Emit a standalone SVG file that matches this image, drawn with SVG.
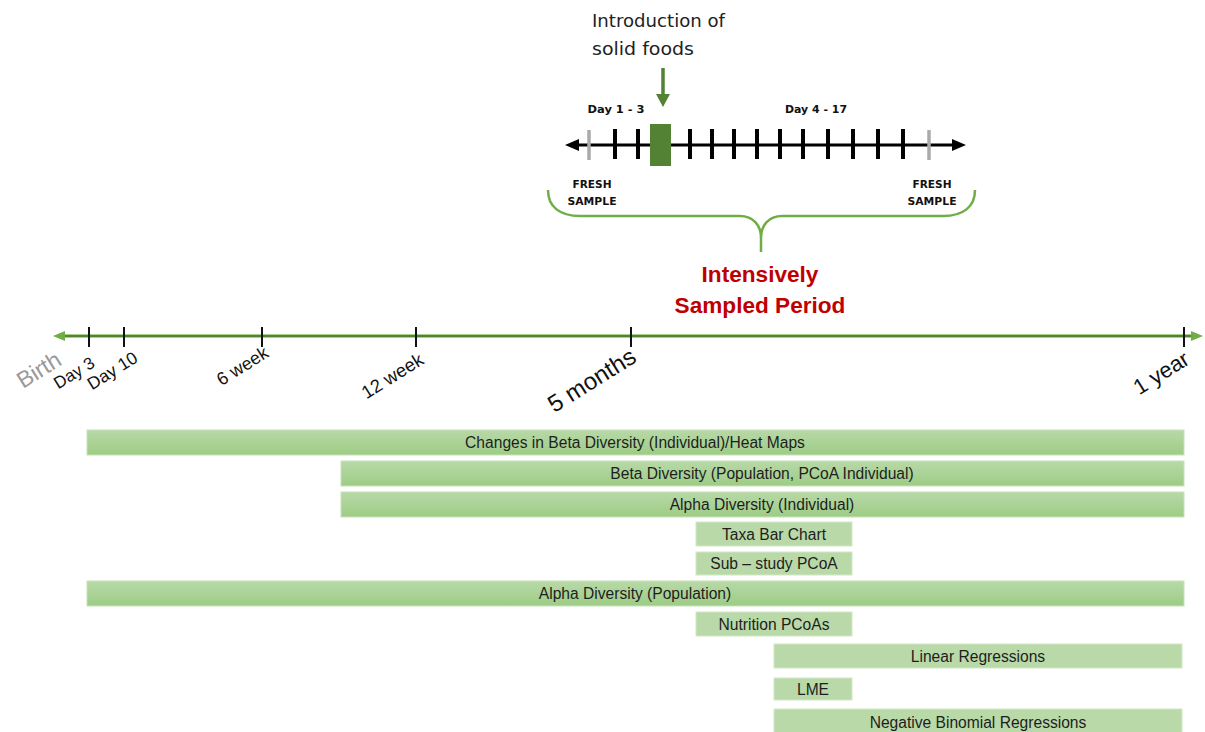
<svg xmlns="http://www.w3.org/2000/svg" width="1205" height="732" viewBox="0 0 1205 732">
<defs>
<linearGradient id="gBar" x1="0" y1="0" x2="0" y2="1">
<stop offset="0" stop-color="#b8d9a7"/>
<stop offset="1" stop-color="#9dcc85"/>
</linearGradient>
<style>
.bar{fill:url(#gBar);stroke:#c8e2b8;stroke-width:1}
.box{fill:#b9d9a8;stroke:#d3e8c6;stroke-width:1}
.bt{font-family:"Liberation Sans",Arial,sans-serif;font-size:15.6px;fill:#1e1e1e;text-anchor:middle}
.lab{font-family:"Liberation Sans",Arial,sans-serif;fill:#111;text-anchor:end}
.tick{stroke:#111;stroke-width:2}
.stk{stroke:#000;stroke-width:4}
.gtk{stroke:#aaaaaa;stroke-width:3.5}
.sm{font-family:"DejaVu Sans","Liberation Sans",sans-serif;font-weight:bold;font-size:11px;fill:#111;text-anchor:middle}
.red{font-family:"Liberation Sans",Arial,sans-serif;font-weight:bold;font-size:22.6px;fill:#c00000;text-anchor:middle}
.intro{font-family:"DejaVu Sans","Liberation Sans",sans-serif;font-size:18px;fill:#222}
</style>
</defs>
<rect width="1205" height="732" fill="#ffffff"/>

<g id="intro-label">
<text class="intro" x="592" y="27" textLength="133" lengthAdjust="spacingAndGlyphs">Introduction of</text>
<text class="intro" x="592" y="55" textLength="102" lengthAdjust="spacingAndGlyphs">solid foods</text>
<line x1="663" y1="68" x2="663" y2="96" stroke="#548235" stroke-width="3.5"/>
<polygon points="656,94 670,94 663,107" fill="#548235"/>
</g>

<g id="sampling-timeline">
<text class="sm" x="616" y="113" textLength="57" lengthAdjust="spacingAndGlyphs">Day 1 - 3</text>
<text class="sm" x="816" y="113" textLength="62" lengthAdjust="spacingAndGlyphs">Day 4 - 17</text>
<line x1="575" y1="145" x2="957" y2="145" stroke="#000" stroke-width="3"/>
<polygon points="565,145 579,139 579,151" fill="#000"/>
<polygon points="966,145 952,139 952,151" fill="#000"/>
<line class="gtk" x1="589" y1="130" x2="589" y2="160"/>
<line class="gtk" x1="929" y1="130" x2="929" y2="160"/>
<line class="stk" x1="615" y1="129" x2="615" y2="159"/>
<line class="stk" x1="638" y1="129" x2="638" y2="159"/>
<line class="stk" x1="690" y1="129" x2="690" y2="159"/>
<line class="stk" x1="712" y1="129" x2="712" y2="159"/>
<line class="stk" x1="734" y1="129" x2="734" y2="159"/>
<line class="stk" x1="757" y1="129" x2="757" y2="159"/>
<line class="stk" x1="780" y1="129" x2="780" y2="159"/>
<line class="stk" x1="803" y1="129" x2="803" y2="159"/>
<line class="stk" x1="828" y1="129" x2="828" y2="159"/>
<line class="stk" x1="853" y1="129" x2="853" y2="159"/>
<line class="stk" x1="878" y1="129" x2="878" y2="159"/>
<line class="stk" x1="903" y1="129" x2="903" y2="159"/>
<rect x="650" y="124" width="21" height="42" fill="#548235"/>
<text class="sm" x="592" y="188" textLength="39" lengthAdjust="spacingAndGlyphs">FRESH</text>
<text class="sm" x="592" y="205" textLength="49" lengthAdjust="spacingAndGlyphs">SAMPLE</text>
<text class="sm" x="932" y="188" textLength="39" lengthAdjust="spacingAndGlyphs">FRESH</text>
<text class="sm" x="932" y="205" textLength="49" lengthAdjust="spacingAndGlyphs">SAMPLE</text>
</g>

<g id="brace">
<path d="M548,190 C548,207 560,216 580,216 L740,216 C753,216 761,225 761,238 L761,252 M975,190 C975,207 963,216 943,216 L782,216 C769,216 761,225 761,238" fill="none" stroke="#70ad47" stroke-width="2.5"/>
</g>

<g id="intensive-label">
<text class="red" x="760" y="282">Intensively</text>
<text class="red" x="760" y="313">Sampled Period</text>
</g>

<g id="main-timeline">
<line x1="62" y1="336" x2="1193" y2="336" stroke="#a9d18e" stroke-width="4"/>
<line x1="62" y1="336" x2="1193" y2="336" stroke="#548235" stroke-width="2"/>
<polygon points="53,336 65,331 65,341" fill="#70ad47"/>
<polygon points="1203,336 1191,331 1191,341" fill="#70ad47"/>
<line class="tick" x1="89" y1="327" x2="89" y2="347"/>
<line class="tick" x1="124" y1="327" x2="124" y2="347"/>
<line class="tick" x1="262" y1="327" x2="262" y2="347"/>
<line class="tick" x1="416" y1="327" x2="416" y2="347"/>
<line class="tick" x1="631" y1="327" x2="631" y2="347"/>
<line class="tick" x1="1184" y1="327" x2="1184" y2="347"/>
<text class="lab" transform="translate(63,364) rotate(-32)" font-size="23" style="fill:#999999">Birth</text>
<text class="lab" transform="translate(96,366) rotate(-32)" font-size="17">Day 3</text>
<text class="lab" transform="translate(139,361) rotate(-32)" font-size="17.5">Day 10</text>
<text class="lab" transform="translate(270,356) rotate(-32)" font-size="18">6 week</text>
<text class="lab" transform="translate(425,363) rotate(-32)" font-size="18.5">12 week</text>
<text class="lab" transform="translate(638,361) rotate(-32)" font-size="24">5 months</text>
<text class="lab" transform="translate(1191,363) rotate(-32)" font-size="22">1 year</text>
</g>

<g id="bar-beta-change">
<rect class="bar" x="87" y="430" width="1097" height="25"/>
<text class="bt" x="635" y="448">Changes in Beta Diversity (Individual)/Heat Maps</text>
</g>
<g id="bar-beta-pop">
<rect class="bar" x="341" y="461" width="843" height="25"/>
<text class="bt" x="762" y="479">Beta Diversity (Population, PCoA Individual)</text>
</g>
<g id="bar-alpha-ind">
<rect class="bar" x="341" y="492" width="843" height="25"/>
<text class="bt" x="762" y="510">Alpha Diversity (Individual)</text>
</g>
<g id="bar-taxa">
<rect class="box" x="696" y="522" width="156" height="24"/>
<text class="bt" x="774" y="540">Taxa Bar Chart</text>
</g>
<g id="bar-substudy">
<rect class="box" x="696" y="552" width="156" height="23"/>
<text class="bt" x="774" y="569">Sub – study PCoA</text>
</g>
<g id="bar-alpha-pop">
<rect class="bar" x="87" y="581" width="1097" height="25"/>
<text class="bt" x="635" y="599">Alpha Diversity (Population)</text>
</g>
<g id="bar-nutrition">
<rect class="box" x="696" y="612" width="156" height="24"/>
<text class="bt" x="774" y="630">Nutrition PCoAs</text>
</g>
<g id="bar-linear">
<rect class="box" x="774" y="644" width="408" height="24"/>
<text class="bt" x="978" y="662">Linear Regressions</text>
</g>
<g id="bar-lme">
<rect class="box" x="774" y="678" width="78" height="22"/>
<text class="bt" x="813" y="695">LME</text>
</g>
<g id="bar-negbin">
<rect class="box" x="774" y="709" width="408" height="24"/>
<text class="bt" x="978" y="728">Negative Binomial Regressions</text>
</g>
</svg>
